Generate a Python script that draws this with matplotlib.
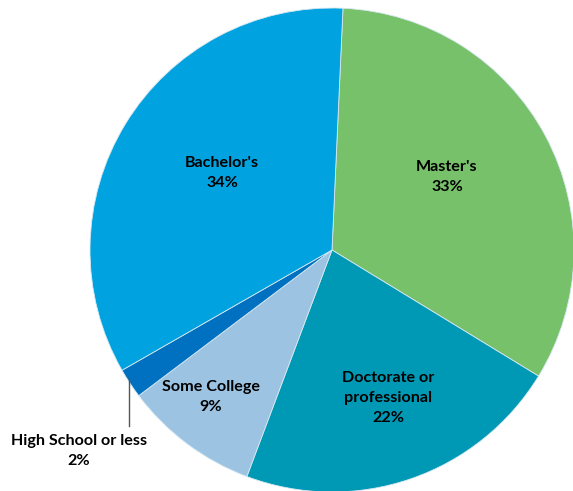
import matplotlib.pyplot as plt

# Share of respondents by highest degree earned
categories = ["Master's", "Doctorate or\nprofessional", "Some College",
              "High School or less", "Bachelor's"]
shares = [33, 22, 9, 2, 34]
colors = ["#77C16A", "#0099B5", "#9DC3E3", "#0070C0", "#00A3E0"]

plt.rcParams['font.family'] = ['Lato', 'DejaVu Sans']

fig = plt.figure(figsize=(5.73, 4.91), dpi=100)
ax = fig.add_axes([0, 0, 1, 1])

cx, cy, r = 332, 241, 242
wedges, _ = ax.pie(shares, colors=colors, startangle=87.4, counterclock=False,
                   center=(cx, cy), radius=r, frame=True,
                   wedgeprops=dict(linewidth=0.6, edgecolor='#d8e8f0'))

ax.set_xlim(0, 573)
ax.set_ylim(0, 491)
ax.set_aspect('equal')
ax.axis('off')

# label spots (pixel coordinates, y up)
label_pos = [(447, 314), (388, 93), (211, 94), (79, 40), (222, 318)]
for name, val, (x, y) in zip(categories, shares, label_pos):
    ax.text(x, y, f"{name}\n{val}%", ha='center', va='center',
            fontsize=11.6, fontweight='bold', linespacing=1.5)

# leader line for the small slice
ax.plot([129, 129], [65, 113], color='#555555', lw=1)

fig.savefig('out.png', dpi=100)
